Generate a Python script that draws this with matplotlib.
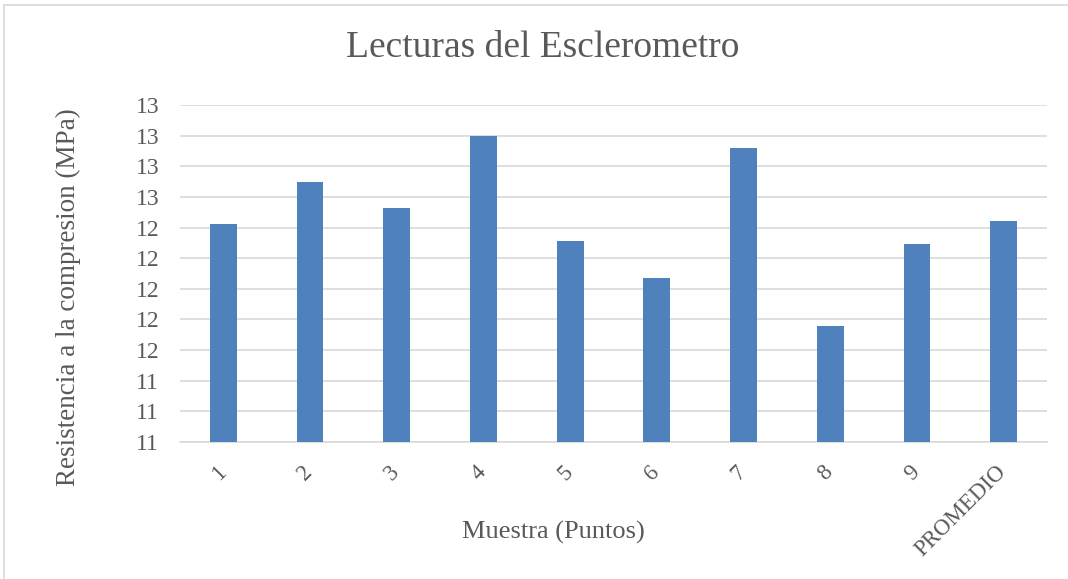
import matplotlib
matplotlib.use("Agg")

import matplotlib.pyplot as plt  # noqa: E402
import matplotlib.transforms as mtransforms  # noqa: E402
from matplotlib.lines import Line2D  # noqa: E402

# Readings per sample point (MPa)
muestras = ["1", "2", "3", "4", "5", "6", "7", "8", "9", "PROMEDIO"]
resistencia = [12.42, 12.70, 12.53, 13.00, 12.31, 12.07, 12.92, 11.76, 12.29, 12.44]
y_ticks = [11.0, 11.2, 11.4, 11.6, 11.8, 12.0, 12.2, 12.4, 12.6, 12.8, 13.0, 13.2]

TEXT = "#595959"
GRID = "#d9d9d9"
BAR = "#4f81bd"
SERIF = "Liberation Serif"

plt.rcParams.update({
    "font.family": SERIF,
    "text.color": TEXT,
})

fig = plt.figure(figsize=(10.68, 5.79), dpi=100)
ax = fig.add_axes([180 / 1068, 1 - 442 / 579, (1047 - 180) / 1068, (442 - 105) / 579])

x = range(len(muestras))
ax.bar(x, resistencia, width=0.31, color=BAR, zorder=3)

ax.grid(axis="y", color=GRID, linewidth=1.2, zorder=0)
for side in ("top", "right", "left"):
    ax.spines[side].set_visible(False)
ax.spines["bottom"].set_color(GRID)
ax.spines["bottom"].set_linewidth(1.2)
ax.tick_params(axis="both", length=0, colors=TEXT)
ax.tick_params(axis="y", pad=15)
ax.tick_params(axis="x", pad=14)

ax.set_ylim(11.0, 13.2)
ax.set_yticks(y_ticks)
ax.set_yticklabels([f"{v:.0f}" for v in y_ticks], fontfamily=SERIF, fontsize=17)
ax.set_xlim(-0.5, len(muestras) - 0.5)
ax.set_xticks(list(x))
ax.set_xticklabels(muestras, rotation=45, ha="right", va="top",
                   rotation_mode="anchor", fontfamily=SERIF, fontsize=16.5)
# nudge rotated labels to the left, as in the reference
shift = mtransforms.ScaledTranslation(-8 / 100, 0, fig.dpi_scale_trans)
for lbl in ax.get_xticklabels():
    lbl.set_transform(lbl.get_transform() + shift)

fig.text(543 / 1068, 1 - 48 / 579, "Lecturas del Esclerometro",
         fontsize=27, ha="center", va="center")
fig.text(68 / 1068, 1 - 297 / 579, "Resistencia a la compresion (MPa)",
         fontsize=19.5, rotation=90, ha="center", va="center")
fig.text(553 / 1068, 1 - 532 / 579, "Muestra (Puntos)",
         fontsize=19, ha="center", va="center")

# chart area border (top and left edges visible in the crop)
fig.add_artist(Line2D([4 / 1068, 1], [1 - 5 / 579, 1 - 5 / 579],
                      transform=fig.transFigure, color=GRID, linewidth=1.2))
fig.add_artist(Line2D([4 / 1068, 4 / 1068], [0, 1 - 5 / 579],
                      transform=fig.transFigure, color=GRID, linewidth=1.2))

fig.savefig("out.png", dpi=100, facecolor="white")
